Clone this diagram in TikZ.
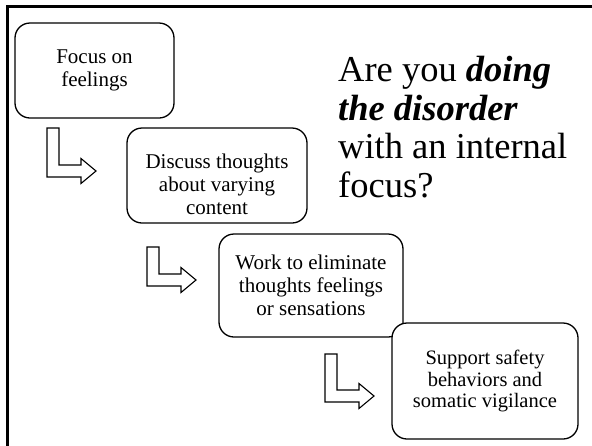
\documentclass[tikz,border=0pt]{standalone}
\usepackage{fontspec}
\setmainfont{Liberation Serif}
\usepackage{tikz}
\usetikzlibrary{positioning,calc}
\tikzset{
stepbox/.style = {draw, fill=white, rectangle, rounded corners=15pt, line width=1.3pt, align=center, inner sep=2pt, font=\fontsize{21}{23}\selectfont},
blockarrow/.style = {draw, fill=white, line width=1.1pt, line join=miter},
frame/.style = {draw, line width=3pt},
question/.style = {align=left, inner sep=0pt, anchor=north west, font=\fontsize{36.5}{38.5}\selectfont}
}
% L-shaped block arrow: top left of stem (x,y), stem length
\newcommand{\larrow}[3]{
  \draw[blockarrow] (#1,#2) -- ++(12,0) -- ++(0,#3) -- ++(22,0) -- ++(0,-6.5)
    -- ++(15,12.5) -- ++(-15,12.5) -- ++(0,-6.5) -- ++(-34,0) -- cycle;
}

\begin{document}
\begin{tikzpicture}[x=1pt, y=-1pt]
    \useasboundingbox (0,0) rectangle (592,445);
    \fill[white] (0,0) rectangle (592,445);
    % slide frame
    \draw[frame] (7,446) -- (7,6.5) -- (593,6.5);

    \node [stepbox, minimum width=159pt, minimum height=95pt] (feelings) at (94.5,70.5) {Focus on\\feelings};
    \node [stepbox, minimum width=180pt, minimum height=95pt] (thoughts) at (217,175.5) {\rule{0pt}{32pt}Discuss thoughts\\about varying\\content};
    \node [stepbox, minimum width=184pt, minimum height=103pt] (eliminate) at (311,285.5) {Work to eliminate\\thoughts feelings\\or sensations};
    \node [stepbox, minimum width=186pt, minimum height=116pt, font=\fontsize{20.5}{21.5}\selectfont] (safety) at (485,381) {Support safety\\behaviors and\\somatic vigilance};

    \larrow{47}{128}{37}
    \larrow{147}{247}{27}
    \larrow{325}{354}{36}

    \node [question] (title) at (338,56) {Are you \textbf{\textit{doing}}\\\textbf{\textit{the disorder}}\\with an internal\\focus?};
\end{tikzpicture}
\end{document}
